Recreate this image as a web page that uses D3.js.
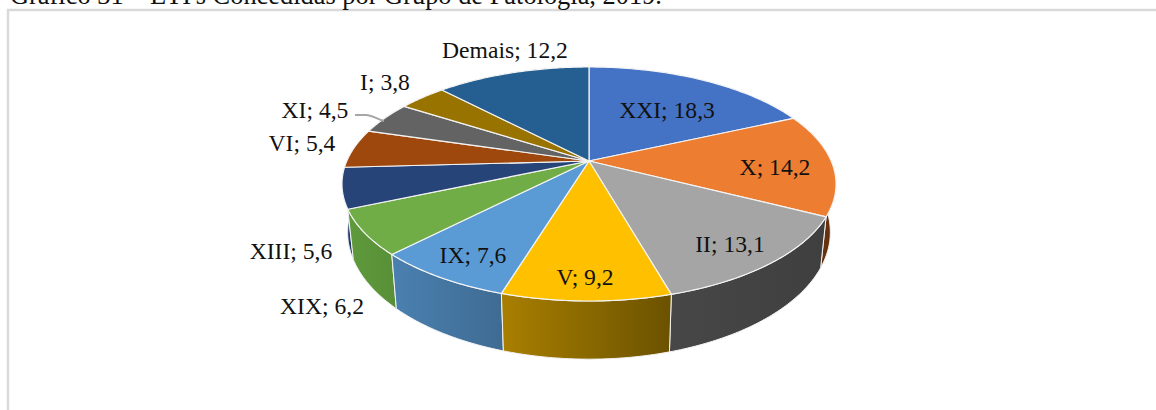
<!DOCTYPE html>
<html><head><meta charset="utf-8">
<script src="https://cdn.jsdelivr.net/npm/d3@7"></script>
<style>html,body{margin:0;padding:0;background:#fff;overflow:hidden}svg{display:block}text{font-family:"Liberation Serif",serif;fill:#111}</style>
</head><body><svg id="c" width="1156" height="410"></svg>
<script>
const categories = ["XXI","X","II","V","IX","XIX","XIII","VI","XI","I","Demais"];
const values = [18.3,14.2,13.1,9.2,7.6,6.2,5.6,5.4,4.5,3.8,12.2];
const valueLabels = ["18,3","14,2","13,1","9,2","7,6","6,2","5,6","5,4","4,5","3,8","12,2"];
const topColors = ["#4472C4","#ED7D31","#A5A5A5","#FFC000","#5B9BD5","#70AD47","#264478","#9E480E","#636363","#997300","#255E91"];
const wallFrom = ["#2f5597","#7a3d12","#474747","#a97f00","#4a80b0","#5f9a3c","#1f3a68","#6f330a","#444","#6b5000","#1a4266"];
const wallTo = ["#2f5597","#5f2f0c","#3f3f3f","#6b5200","#3f6b92","#588f37","#1f3a68","#6f330a","#444","#6b5000","#1a4266"];
const labelCentres = [[667,110],[775,167],[730,244],[585,277],[473,255],[322,306],[291,251],[302,143],[315,110],[385,82],[505,50]];

const svg = d3.select("#c");
const cx = 589, cy = 161, R = 242.2, k = 0.1966, b = -80.83;
const project = a => { const u = Math.sin(a), v = Math.cos(a), w = 1 + k*v;
  return [cx + R*u/w, (cy + b*v)/w]; };
const lower = ([x,y]) => [cx + (x-cx)*0.977, y + 51 + 0.085*(y-217)];

const arcs = d3.pie().sort(null).value(d=>d)(values);
const sample = d => d3.range(0, 61).map(i => project(d.startAngle + (d.endAngle-d.startAngle)*i/60));
const line = d3.line();

// frame and caption
svg.append("path").attr("d","M8 410V10H1156").attr("fill","none").attr("stroke","#d9d9d9").attr("stroke-width",2.4);
svg.append("text").attr("x",10).attr("y",4).attr("font-size",26.4).text("Gráfico 31 – ETI's Concedidas por Grupo de Patologia, 2019.");

const defs = svg.append("defs");
arcs.forEach((d,i)=>{
  const g = defs.append("linearGradient").attr("id","w"+i);
  g.append("stop").attr("offset",0).attr("stop-color",wallFrom[i]);
  g.append("stop").attr("offset",1).attr("stop-color",wallTo[i]);
});

// side walls, back to front
const order = d3.range(arcs.length).sort((p,q)=>{
  const m = d => Math.cos((d.startAngle+d.endAngle)/2);
  return m(arcs[q]) - m(arcs[p]);
});
svg.append("g").selectAll("path").data(order).join("path")
  .attr("d", i => { const top = sample(arcs[i]); return line(top.concat(top.map(lower).reverse()))+"Z"; })
  .attr("fill", i=>`url(#w${i})`).attr("stroke","#f4f4f4").attr("stroke-width",1).attr("stroke-linejoin","round");

// top faces
svg.append("g").selectAll("path").data(arcs).join("path")
  .attr("d", d => line([[cx,cy]].concat(sample(d)))+"Z")
  .attr("fill",(d,i)=>topColors[i]).attr("stroke","#f4f4f4").attr("stroke-width",1.2).attr("stroke-linejoin","round");

// leader for XI
svg.append("path").attr("d","M355 115H366C372 115 376 119 384 121").attr("fill","none").attr("stroke","#a6a6a6").attr("stroke-width",1.9);

// labels
svg.append("g").selectAll("text").data(categories).join("text")
  .attr("x",(d,i)=>labelCentres[i][0]).attr("y",(d,i)=>labelCentres[i][1])
  .attr("text-anchor","middle").attr("dominant-baseline","central").attr("font-size",23.6)
  .text((d,i)=>`${d}; ${valueLabels[i]}`);
</script></body></html>
